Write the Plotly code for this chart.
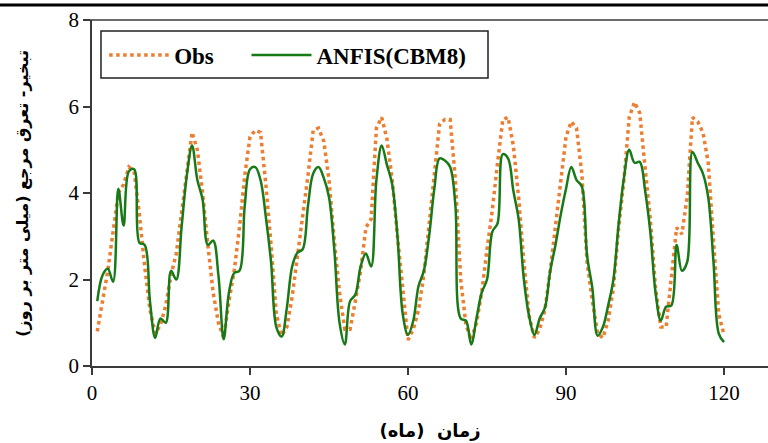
import plotly.graph_objects as go

# Monthly reference evapotranspiration (mm/day), months 1..120
months = list(range(1, 121))

obs = [
    0.8, 1.5, 2.2, 3.1, 4.0, 4.2, 4.6, 4.5, 3.5, 2.3, 1.3, 0.75,
    0.95, 1.4, 2.1, 2.6, 3.5, 4.5, 5.4, 5.0, 4.0, 2.8, 1.7, 1.0,
    0.65, 1.5, 2.2, 3.2, 4.4, 5.3, 5.45, 5.4, 4.2, 2.8, 1.2, 0.7,
    0.9, 1.6, 2.5, 3.4, 4.4, 5.45, 5.5, 5.2, 4.3, 2.9, 1.7, 0.85,
    0.85, 1.5, 2.2, 3.2, 3.4, 5.5, 5.75, 5.25, 4.3, 3.0, 1.7, 0.6,
    0.85, 1.3, 2.1, 3.3, 4.6, 5.6, 5.7, 5.7, 4.3, 2.0, 0.95, 0.6,
    1.0, 1.7, 2.7, 3.6, 4.7, 5.7, 5.75, 5.1, 3.9, 2.4, 1.15, 0.65,
    0.85, 1.3, 2.2, 3.2, 4.2, 5.3, 5.65, 5.5, 4.45, 2.4, 1.5, 0.75,
    0.65, 1.05, 1.8, 3.2, 4.3, 5.75, 6.1, 5.85, 4.6, 3.4, 1.8, 0.9,
    0.9, 2.0, 3.2, 3.05, 3.9, 5.75, 5.65, 5.4, 4.7, 2.9, 1.2, 0.72,
]

anfis = [
    1.5, 2.1, 2.25, 1.95, 4.1, 3.25, 4.5, 4.55, 2.85, 2.8, 1.5, 0.65,
    1.1, 1.0, 2.2, 2.0, 3.2, 4.4, 5.1, 4.3, 3.85, 2.8, 2.9, 2.1,
    0.62, 1.7, 2.15, 2.2, 3.7, 4.55, 4.6, 4.3, 3.45, 2.4, 0.9, 0.68,
    1.35, 2.3, 2.62, 2.7, 3.7, 4.45, 4.6, 4.35, 3.9, 2.7, 1.0, 0.5,
    1.5, 1.65, 2.3, 2.6, 2.3, 4.3, 5.1, 4.65, 4.2, 3.0, 1.2, 0.72,
    1.05, 1.85, 2.2, 3.0, 4.1, 4.8, 4.75, 4.6, 3.7, 1.1, 1.05, 0.5,
    1.1, 1.7, 2.0, 3.1, 3.3, 4.9, 4.8, 4.05, 3.4, 2.0, 1.15, 0.72,
    1.1, 1.35, 2.2, 2.8, 3.5, 4.1, 4.6, 4.3, 4.15, 2.55, 1.8, 0.7,
    0.9, 1.4, 2.0, 3.3, 4.35, 5.0, 4.7, 4.72, 4.07, 3.1, 1.7, 1.05,
    1.37, 1.4, 2.8, 2.2, 2.4, 4.95, 4.7, 4.45, 3.9, 2.4, 0.75, 0.55,
]

x_ticks = [0, 30, 60, 90, 120]
y_ticks = [0, 2, 4, 6, 8]

ORANGE = "#ED7D31"
GREEN = "#177A17"
AXIS = "#3a3a3a"

fig = go.Figure()
fig.add_trace(go.Scatter(
    x=months, y=obs, name="Obs", mode="lines", legend="legend",
    line=dict(color=ORANGE, width=3.5, dash="dot"),
))
fig.add_trace(go.Scatter(
    x=months, y=anfis, name="ANFIS(CBM8)", mode="lines", legend="legend2",
    line=dict(color=GREEN, width=2.5, shape="spline", smoothing=1.0),
))

serif = "Liberation Serif"
legend_font = dict(family=serif, size=23, color="black", weight="bold")
legend_common = dict(
    orientation="h", yanchor="middle", y=0.899, xanchor="left",
    borderwidth=0, bgcolor="rgba(0,0,0,0)", font=legend_font, itemwidth=60,
)

fig.update_layout(
    width=768, height=443,
    margin=dict(l=92, r=0, t=20, b=77),
    paper_bgcolor="white", plot_bgcolor="white",
    showlegend=True,
    legend=dict(x=0.018, **legend_common),
    legend2=dict(x=0.2285, **legend_common),
    xaxis=dict(
        range=[0, 128.35], tickvals=x_ticks, ticks="outside", ticklen=7,
        tickwidth=1.5, tickcolor=AXIS, showline=True, linecolor=AXIS,
        linewidth=1.5, showgrid=False, zeroline=False,
        tickfont=dict(family=serif, size=21, color="black"),
        title=dict(text="زمان  (ماه)", standoff=20,
                   font=dict(family="DejaVu Sans", size=18, color="black",
                             weight="bold")),
    ),
    yaxis=dict(
        range=[0, 8], tickvals=y_ticks, ticks="outside", ticklen=7,
        tickwidth=1.5, tickcolor=AXIS, showline=True, linecolor=AXIS,
        linewidth=1.5, showgrid=False, zeroline=False,
        tickfont=dict(family=serif, size=21, color="black"),
    ),
    annotations=[dict(
        text="تبخیر- تعرق مرجع (میلی متر بر روز)",
        xref="paper", yref="paper", x=-0.104, y=0.5,
        xanchor="center", yanchor="middle", textangle=-90, showarrow=False,
        font=dict(family="DejaVu Sans", size=16, color="black", weight="bold"),
    )],
    shapes=[
        # frame line across the top of the plot
        dict(type="line", xref="paper", yref="paper", x0=-0.012, x1=1,
             y0=1, y1=1, line=dict(color=AXIS, width=1.5)),
        # rule along the top of the figure
        dict(type="line", xref="paper", yref="paper", x0=-0.2, x1=1.05,
             y0=1.0434, y1=1.0434, line=dict(color="black", width=3)),
        # legend frame
        dict(type="rect", xref="paper", yref="paper", x0=0.0133, x1=0.5858,
             y0=0.8324, y1=0.9682, line=dict(color="#222", width=1.5),
             fillcolor="rgba(0,0,0,0)", layer="above"),
    ],
)

fig.write_html("out.html")
